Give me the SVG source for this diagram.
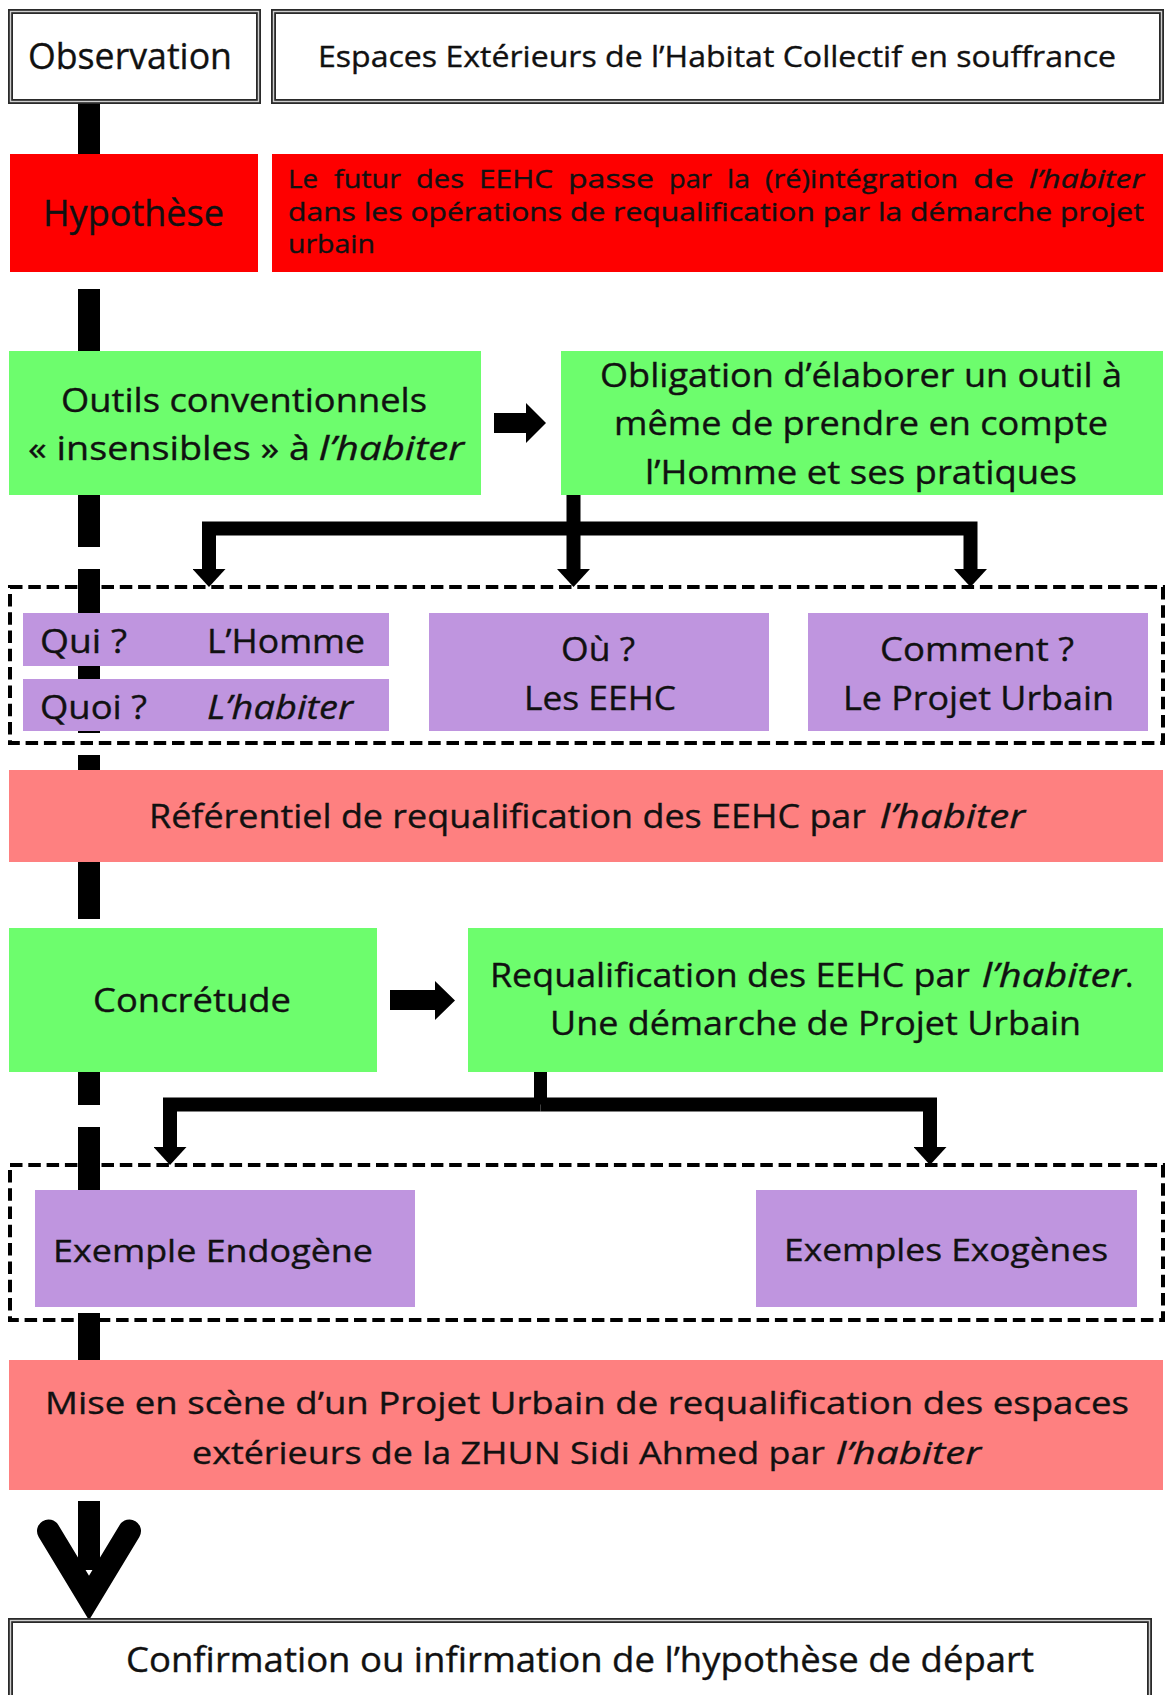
<svg xmlns="http://www.w3.org/2000/svg" width="1165" height="1695" viewBox="0 0 1165 1695">
  <style>
    .t { font-family: "Open Sans", "Liberation Sans", sans-serif; fill: #111; stroke: #111; stroke-width: 0.35; }
    .i { font-style: italic; }
    .framed-outer { fill: #fff; stroke: #2a2a2a; stroke-width: 5; }
    .framed-inner { fill: none; stroke: #cfcfcf; stroke-width: 1.4; }
    .red { fill: #fe0000; }
    .green { fill: #6dfd6d; }
    .pink { fill: #fe8080; }
    .purple { fill: #bf95df; }
    .group-frame { fill: none; stroke: #000; stroke-width: 4; stroke-dasharray: 12.5 5.8; }
    .spine { fill: none; stroke: #000; stroke-width: 22; stroke-linecap: butt; }
    .branch { fill: none; stroke: #000; stroke-width: 14; stroke-linejoin: miter; marker-end: url(#head); }
    .stem { fill: none; stroke: #000; stroke-width: 13; }
    .block { fill: #000; }
    .chevron { fill: none; stroke: #000; stroke-width: 23; stroke-linecap: round; stroke-linejoin: miter; stroke-miterlimit: 10; }
  </style>
  <defs>
    <marker id="head" markerUnits="userSpaceOnUse" viewBox="0 0 18 33" refX="0" refY="16.5" markerWidth="18" markerHeight="33" orient="auto">
      <path d="M0 0 L18 16.5 L0 33 Z" fill="#000"/>
    </marker>
  </defs>

  <rect width="1165" height="1695" fill="#fff"/>

  <!-- connectors: dashed spine, branching arrows, block arrows -->
  <g id="connectors">
    <path class="spine" d="M89 104V154 M89 289V361 M89 383V547 M89 569V733 M89 755V919 M89 941V1105 M89 1127V1291 M89 1313V1477 M89 1501V1570"/>
    <path class="chevron" d="M48.5 1531 L89 1598 L129.5 1531"/>

    <path class="block" d="M494 413 H526 V403 L546 423 L526 443 V433 H494 Z"/>
    <path class="block" d="M390 990 H435 V981 L455 1000.5 L435 1020 V1010 H390 Z"/>

    <path class="branch" d="M573.5 495 V569"/>
    <path class="branch" d="M573.5 528.5 H209 V569"/>
    <path class="branch" d="M573.5 528.5 H970.5 V569"/>

    <path class="stem" d="M540.5 1072 V1104.5"/>
    <path class="branch" d="M540.5 1104.5 H170 V1147"/>
    <path class="branch" d="M540.5 1104.5 H930 V1147"/>
  </g>

  <g id="observation">
    <rect class="framed-outer" x="10.5" y="11.5" width="248" height="90"/>
    <rect class="framed-inner" x="10.5" y="11.5" width="248" height="90"/>
    <text class="t" x="28" y="69" font-size="36" textLength="204" lengthAdjust="spacingAndGlyphs">Observation</text>
  </g>

  <g id="observation-text">
    <rect class="framed-outer" x="273.5" y="11.5" width="888" height="90"/>
    <rect class="framed-inner" x="273.5" y="11.5" width="888" height="90"/>
    <text class="t" x="318" y="67" font-size="28.5" textLength="798" lengthAdjust="spacingAndGlyphs">Espaces Extérieurs de l’Habitat Collectif en souffrance</text>
  </g>

  <g id="hypothese">
    <rect class="red" x="10" y="154" width="248" height="118"/>
    <text class="t" x="43" y="226" font-size="37" textLength="181" lengthAdjust="spacingAndGlyphs">Hypothèse</text>
  </g>

  <g id="hypothese-text">
    <rect class="red" x="272" y="154" width="891" height="118"/>
    <text class="t" y="188" font-size="25">
      <tspan x="288" textLength="30" lengthAdjust="spacingAndGlyphs">Le</tspan>
      <tspan x="334" textLength="67" lengthAdjust="spacingAndGlyphs">futur</tspan>
      <tspan x="416" textLength="48" lengthAdjust="spacingAndGlyphs">des</tspan>
      <tspan x="479" textLength="74" lengthAdjust="spacingAndGlyphs">EEHC</tspan>
      <tspan x="568" textLength="86" lengthAdjust="spacingAndGlyphs">passe</tspan>
      <tspan x="669" textLength="43" lengthAdjust="spacingAndGlyphs">par</tspan>
      <tspan x="727" textLength="23" lengthAdjust="spacingAndGlyphs">la</tspan>
      <tspan x="765" textLength="193" lengthAdjust="spacingAndGlyphs">(ré)intégration</tspan>
      <tspan x="973" textLength="41" lengthAdjust="spacingAndGlyphs">de</tspan>
      <tspan class="i" x="1029" textLength="115" lengthAdjust="spacingAndGlyphs">l’habiter</tspan>
    </text>
    <text class="t" x="288" y="220.5" font-size="25" textLength="856" lengthAdjust="spacingAndGlyphs">dans les opérations de requalification par la démarche projet</text>
    <text class="t" x="288" y="252.5" font-size="25" textLength="87" lengthAdjust="spacingAndGlyphs">urbain</text>
  </g>

  <g id="outils">
    <rect class="green" x="9" y="351" width="472" height="144"/>
    <text class="t" x="61" y="412" font-size="32" textLength="366" lengthAdjust="spacingAndGlyphs">Outils conventionnels</text>
    <text class="t" x="28" y="460" font-size="32" textLength="282" lengthAdjust="spacingAndGlyphs">« insensibles »  à</text>
    <text class="t i" x="319" y="460" font-size="32" textLength="145" lengthAdjust="spacingAndGlyphs">l’habiter</text>
  </g>

  <g id="obligation">
    <rect class="green" x="561" y="351" width="602" height="144"/>
    <text class="t" x="600" y="387" font-size="32" textLength="522" lengthAdjust="spacingAndGlyphs">Obligation d’élaborer un outil à</text>
    <text class="t" x="614" y="435" font-size="32" textLength="494" lengthAdjust="spacingAndGlyphs">même de prendre en compte</text>
    <text class="t" x="645" y="484" font-size="32" textLength="432" lengthAdjust="spacingAndGlyphs">l’Homme et ses pratiques</text>
  </g>

  <g id="questions">
    <rect class="group-frame" x="10" y="587" width="1153" height="156"/>
  </g>

  <g id="qui">
    <rect class="purple" x="23" y="613" width="366" height="53"/>
    <text class="t" x="40" y="653" font-size="32" textLength="87" lengthAdjust="spacingAndGlyphs">Qui ?</text>
    <text class="t" x="207" y="653" font-size="32" textLength="158" lengthAdjust="spacingAndGlyphs">L’Homme</text>
  </g>

  <g id="quoi">
    <rect class="purple" x="23" y="679" width="366" height="52"/>
    <text class="t" x="40" y="719" font-size="32" textLength="107" lengthAdjust="spacingAndGlyphs">Quoi ?</text>
    <text class="t i" x="207" y="719" font-size="32" textLength="146" lengthAdjust="spacingAndGlyphs">L’habiter</text>
  </g>

  <g id="ou">
    <rect class="purple" x="429" y="613" width="340" height="118"/>
    <text class="t" x="561" y="661" font-size="32" textLength="74" lengthAdjust="spacingAndGlyphs">Où ?</text>
    <text class="t" x="524" y="710" font-size="32" textLength="152" lengthAdjust="spacingAndGlyphs">Les EEHC</text>
  </g>

  <g id="comment">
    <rect class="purple" x="808" y="613" width="340" height="118"/>
    <text class="t" x="880" y="661" font-size="32" textLength="194" lengthAdjust="spacingAndGlyphs">Comment ?</text>
    <text class="t" x="843" y="710" font-size="32" textLength="271" lengthAdjust="spacingAndGlyphs">Le Projet Urbain</text>
  </g>

  <g id="referentiel">
    <rect class="pink" x="9" y="770" width="1154" height="92"/>
    <text class="t" x="149" y="828" font-size="32" textLength="717" lengthAdjust="spacingAndGlyphs">Référentiel de requalification des EEHC par</text>
    <text class="t i" x="880" y="828" font-size="32" textLength="145" lengthAdjust="spacingAndGlyphs">l’habiter</text>
  </g>

  <g id="concretude">
    <rect class="green" x="9" y="928" width="368" height="144"/>
    <text class="t" x="93" y="1012" font-size="32" textLength="198" lengthAdjust="spacingAndGlyphs">Concrétude</text>
  </g>

  <g id="requalification">
    <rect class="green" x="468" y="928" width="695" height="144"/>
    <text class="t" x="490" y="987" font-size="32" textLength="480" lengthAdjust="spacingAndGlyphs">Requalification des EEHC par</text>
    <text class="t i" x="982" y="987" font-size="32" textLength="144" lengthAdjust="spacingAndGlyphs">l’habiter</text>
    <text class="t" x="1125" y="987" font-size="32">.</text>
    <text class="t" x="550" y="1035" font-size="32" textLength="531" lengthAdjust="spacingAndGlyphs">Une démarche de Projet Urbain</text>
  </g>

  <g id="exemples">
    <rect class="group-frame" x="10" y="1165" width="1153" height="155"/>
  </g>

  <g id="endogene">
    <rect class="purple" x="35" y="1190" width="380" height="117"/>
    <text class="t" x="53" y="1262" font-size="31" textLength="320" lengthAdjust="spacingAndGlyphs">Exemple Endogène</text>
  </g>

  <g id="exogenes">
    <rect class="purple" x="756" y="1190" width="381" height="117"/>
    <text class="t" x="784" y="1261" font-size="31" textLength="324" lengthAdjust="spacingAndGlyphs">Exemples Exogènes</text>
  </g>

  <g id="mise-en-scene">
    <rect class="pink" x="9" y="1360" width="1154" height="130"/>
    <text class="t" x="45" y="1414" font-size="31" textLength="1084" lengthAdjust="spacingAndGlyphs">Mise en scène d’un Projet Urbain  de requalification des espaces</text>
    <text class="t" x="192" y="1464" font-size="31" textLength="633" lengthAdjust="spacingAndGlyphs">extérieurs de la ZHUN Sidi Ahmed par</text>
    <text class="t i" x="836" y="1464" font-size="31" textLength="145" lengthAdjust="spacingAndGlyphs">l’habiter</text>
  </g>

  <g id="conclusion">
    <rect class="framed-outer" x="10.5" y="1620.5" width="1139" height="110"/>
    <rect class="framed-inner" x="10.5" y="1620.5" width="1139" height="110"/>
    <text class="t" x="126" y="1672" font-size="34" textLength="908" lengthAdjust="spacingAndGlyphs">Confirmation ou infirmation de l’hypothèse de départ</text>
  </g>
</svg>
